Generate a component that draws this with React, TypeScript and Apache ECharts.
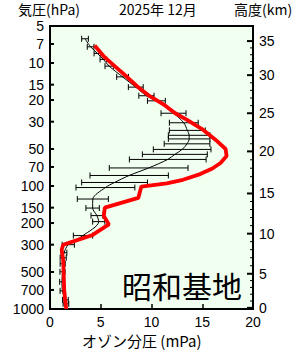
import React, { useEffect, useRef } from 'react';
import * as echarts from 'echarts';

const titleText = '2025年 12月';
const stationName = '昭和基地';
const leftAxisTitle = '気圧(hPa)';
const rightAxisTitle = '高度(km)';
const xAxisTitle = 'オゾン分圧 (mPa)';

const ozoneTicks = [0, 5, 10, 15, 20];
const pressureTicks = [5, 7, 10, 15, 20, 30, 50, 70, 100, 150, 200, 300, 500, 700, 1000];
const altitudeTicks = [0, 5, 10, 15, 20, 25, 30, 35];
const altitudeTickPressure = [979, 517, 244, 115, 52.3, 25.6, 12.55, 6.63];

// this month's profile
const monthPressure = [7.2, 9, 11, 13, 15.5, 18.5, 22, 25.5, 29, 35, 42, 50, 57, 65, 72, 80, 89, 95, 101, 125, 150, 175, 205, 250, 282, 300, 330, 400, 700, 850, 1000];
const monthOzone = [4.4, 5.4, 6.6, 7.6, 8.6, 9.8, 11.3, 12.3, 13.5, 15.1, 16.3, 17.3, 17.4, 16.8, 16.0, 14.8, 13.1, 11.5, 9.0, 8.7, 5.4, 5.3, 5.8, 4.2, 2.3, 1.3, 1.15, 1.3, 1.4, 1.5, 1.6];

// climatology (mean and standard deviation)
const climPressure = [6.35, 7.38, 8.35, 9.35, 10.6, 12.96, 15.7, 18.45, 20.3, 25.6, 30.6, 35.3, 38.7, 41.4, 45.4, 50.4, 55.3, 60.8, 71.3, 82.1, 93.6, 102.9, 127.6, 151.1, 174, 194.8, 253, 300, 348.7, 383, 428.7, 498, 601, 712, 843, 908];
const climMean = [3.45, 4.0, 4.67, 5.26, 5.83, 7.15, 8.45, 9.5, 10.48, 12.17, 13.18, 13.53, 13.71, 13.71, 13.5, 13.02, 12.3, 11.6, 9.72, 7.8, 6.36, 5.46, 4.22, 4.2, 4.62, 4.8, 3.25, 1.8, 1.38, 1.3, 1.25, 1.23, 1.18, 1.22, 1.52, 1.57];
const climSd = [0.33, 0.33, 0.33, 0.33, 0.41, 0.58, 0.73, 0.75, 0.88, 1.23, 1.42, 1.77, 2.05, 2.05, 2.25, 2.84, 3.2, 3.78, 3.88, 3.86, 3.24, 2.9, 1.53, 0.66, 0.58, 0.6, 0.95, 0.6, 0.28, 0.3, 0.25, 0.25, 0.23, 0.23, 0.28, 0.28];

const FONT = '"Liberation Sans", Arial, "Noto Sans CJK JP", sans-serif';
const JFONT = '"Noto Sans CJK JP", "Liberation Sans", sans-serif';

function buildAltitudeTicks() {
  const out: number[][] = [];
  for (let i = 0; i < altitudeTicks.length; i++) {
    out.push([20, altitudeTickPressure[i], 1, altitudeTicks[i]]);
    if (i < altitudeTicks.length - 1) {
      const a0 = altitudeTicks[i], a1 = altitudeTicks[i + 1];
      const l0 = Math.log10(altitudeTickPressure[i]), l1 = Math.log10(altitudeTickPressure[i + 1]);
      for (let a = a0 + 1; a < a1; a++) {
        const t = (a - a0) / (a1 - a0);
        out.push([20, Math.pow(10, l0 + (l1 - l0) * t), 0, a]);
      }
    }
  }
  return out;
}

export default function App() {
  const ref = useRef<HTMLDivElement>(null);
  useEffect(() => {
    if (!ref.current) return;
    const chart = echarts.init(ref.current, null, { renderer: 'svg' });
    const option: any = {
      animation: false,
      backgroundColor: '#fff',
      grid: {
        left: 50, right: 47, top: 26, bottom: 41,
        show: true, backgroundColor: '#f0fff0', borderColor: '#000', borderWidth: 2,
      },
      xAxis: {
        type: 'value', min: ozoneTicks[0], max: ozoneTicks[ozoneTicks.length - 1], interval: 5,
        axisLine: { show: false },
        axisTick: { show: true, inside: true, length: 5, lineStyle: { color: '#000', width: 1.5 } },
        axisLabel: { color: '#000', fontSize: 14, fontFamily: FONT, margin: 6, lineHeight: 14 },
        splitLine: { show: false },
      },
      yAxis: {
        type: 'log', logBase: 10, min: 5, max: 1000, inverse: true,
        axisLine: { show: false }, axisTick: { show: false }, axisLabel: { show: false },
        splitLine: { show: false },
      },
      graphic: [
        { type: 'text', left: 18, top: 2, style: { text: leftAxisTitle, font: `14px ${JFONT}`, lineHeight: 14, fill: '#000' } },
        { type: 'text', left: 119, top: 2, style: { text: titleText, font: `14px ${JFONT}`, lineHeight: 14, fill: '#000' } },
        { type: 'text', left: 234, top: 2, style: { text: rightAxisTitle, font: `14px ${JFONT}`, lineHeight: 14, fill: '#000' } },
        { type: 'text', left: 82, top: 333, style: { text: xAxisTitle, font: `15px ${JFONT}`, lineHeight: 15, fill: '#000' } },
        { type: 'text', left: 122, top: 270, z: 100, style: { text: stationName, font: `30px ${JFONT}`, lineHeight: 30, fill: '#000' } },
      ],
      series: [
        {
          type: 'custom', name: 'sd', z: 3, clip: false,
          data: climPressure.map((p, i) => [climMean[i], p, climSd[i]]),
          renderItem: (params: any, api: any) => {
            const m = api.value(0), p = api.value(1), s = api.value(2);
            const a = api.coord([m - s, p]);
            const b = api.coord([m + s, p]);
            const st = { stroke: '#000', lineWidth: 1 };
            return {
              type: 'group',
              children: [
                { type: 'line', shape: { x1: a[0], y1: a[1], x2: b[0], y2: b[1] }, style: st },
                { type: 'line', shape: { x1: a[0], y1: a[1] - 3, x2: a[0], y2: a[1] + 3 }, style: st },
                { type: 'line', shape: { x1: b[0], y1: b[1] - 3, x2: b[0], y2: b[1] + 3 }, style: st },
              ],
            };
          },
        },
        {
          type: 'line', name: 'mean', z: 4, symbol: 'none', smooth: 0.3,
          data: climPressure.map((p, i) => [climMean[i], p]),
          lineStyle: { color: '#000', width: 1 },
        },
        {
          type: 'line', name: 'month', z: 5, symbol: 'none',
          data: monthPressure.map((p, i) => [monthOzone[i], p]),
          lineStyle: { color: '#ff0000', width: 3.8 },
        },
        {
          type: 'custom', name: 'pticks', z: 6, clip: false, silent: true,
          data: pressureTicks.map((p) => [0, p]),
          renderItem: (params: any, api: any) => {
            const p = api.value(1);
            const c = api.coord([0, p]);
            return {
              type: 'group',
              children: [
                { type: 'line', shape: { x1: c[0], y1: c[1], x2: c[0] + 4, y2: c[1] }, style: { stroke: '#000', lineWidth: 2 } },
                { type: 'text', style: { text: String(p), x: c[0] - 6, y: c[1], align: 'right', verticalAlign: 'middle', font: `14px ${FONT}`, lineHeight: 14, fill: '#000' } },
              ],
            };
          },
        },
        {
          type: 'custom', name: 'aticks', z: 6, clip: false, silent: true,
          data: buildAltitudeTicks(),
          renderItem: (params: any, api: any) => {
            const p = api.value(1), major = api.value(2), alt = api.value(3);
            const c = api.coord([20, p]);
            const children: any[] = [
              { type: 'line', shape: { x1: c[0] - (major ? 6 : 3), y1: c[1], x2: c[0], y2: c[1] }, style: { stroke: '#000', lineWidth: major ? 2 : 1 } },
            ];
            if (major) {
              children.push({ type: 'text', style: { text: String(alt), x: c[0] + 6, y: c[1], align: 'left', verticalAlign: 'middle', font: `14px ${FONT}`, lineHeight: 14, fill: '#000' } });
            }
            return { type: 'group', children };
          },
        },
      ],
    };
    chart.setOption(option);
    return () => chart.dispose();
  }, []);
  return <div ref={ref} style={{ position: 'absolute', left: 0, top: 0, width: 300, height: 350 }} />;
}
